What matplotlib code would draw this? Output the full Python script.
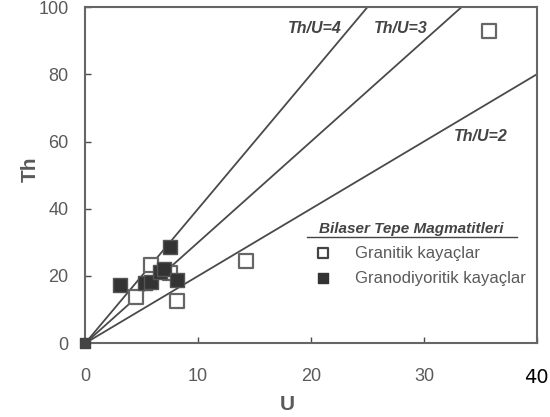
import matplotlib
matplotlib.use("Agg")
import matplotlib.pyplot as plt
import numpy as np

plt.rcParams['font.family'] = ['Liberation Sans', 'DejaVu Sans']

# Granitik kayaçlar (open squares)
granit_u = [4.5, 5.8, 7.5, 8.1, 14.2, 35.8]
granit_th = [13.8, 23.3, 21.0, 12.6, 24.5, 92.9]

# Granodiyoritik kayaçlar (filled squares)
grano_u = [3.1, 5.3, 5.8, 6.6, 7.0, 7.5, 8.1]
grano_th = [17.3, 17.8, 18.3, 21.3, 22.0, 28.6, 18.8]

# Th/U reference lines
ratios = [4, 3, 2]
ratio_labels = ["Th/U=4", "Th/U=3", "Th/U=2"]
label_pos = [(22.7, 93.7), (30.3, 93.7), (37.4, 61.5)]

xticks = [0, 10, 20, 30, 40]
yticks = [0, 20, 40, 60, 80, 100]

grey = '#5a5a5a'
line_col = '#4a4a4a'

fig = plt.figure(figsize=(5.5, 4.17), dpi=100)
ax = fig.add_axes([0.155, 0.177, 0.821, 0.806])

u = np.array([0, 40])
for r in ratios:
    ax.plot(u, r * u, color=line_col, lw=1.3)

for (x, y), lab in zip(label_pos, ratio_labels):
    ax.text(x, y, lab, ha='right', va='center', fontsize=11.5, fontstyle='italic',
            fontweight='bold', color='#444444')

ax.scatter(granit_u, granit_th, marker='s', s=110, facecolors='white',
           edgecolors='#666666', linewidths=1.6, zorder=3)
ax.scatter(grano_u, grano_th, marker='s', s=110, facecolors='#333333',
           edgecolors='#555555', linewidths=1.0, zorder=4)
ax.scatter([0], [0], marker='s', s=50, color='#444444', zorder=5, clip_on=False)

ax.set_xlim(0, 40)
ax.set_ylim(0, 100)
ax.set_xticks(xticks)
ax.set_yticks(yticks)
ax.tick_params(direction='in', length=4, width=1, colors=line_col,
               labelcolor=grey, labelsize=13)
ax.tick_params(axis='y', pad=12)
ax.tick_params(axis='x', pad=18)
xl = ax.get_xticklabels()
xl[-1].set_color('black')
xl[-1].set_fontfamily('DejaVu Sans')
xl[-1].set_fontsize(14)
for s in ax.spines.values():
    s.set_color('#666666')
    s.set_linewidth(1.5)

ax.set_xlabel("U", fontsize=15, fontweight='bold', color=grey)
ax.set_ylabel("Th", fontsize=15, fontweight='bold', color=grey)
ax.xaxis.set_label_coords(0.447, -0.155)
ax.yaxis.set_label_coords(-0.10, 0.518)

# legend drawn as text block
ax.text(0.723, 0.339, "Bilaser Tepe Magmatitleri", transform=ax.transAxes,
        ha='center', va='center', fontsize=11, fontstyle='italic',
        fontweight='bold', color='#444444')
ax.plot([0.491, 0.956], [0.316, 0.316], transform=ax.transAxes,
        color='#444444', lw=1)
ax.scatter([0.527], [0.268], transform=ax.transAxes, marker='s', s=50,
           facecolors='white', edgecolors='#444444', linewidths=1.6)
ax.text(0.597, 0.268, "Granitik kayaçlar", transform=ax.transAxes,
        ha='left', va='center', fontsize=12, color=grey)
ax.scatter([0.527], [0.193], transform=ax.transAxes, marker='s', s=50,
           color='#333333')
ax.text(0.597, 0.193, "Granodiyoritik kayaçlar", transform=ax.transAxes,
        ha='left', va='center', fontsize=12, color=grey)

fig.savefig("out.png", dpi=100)
